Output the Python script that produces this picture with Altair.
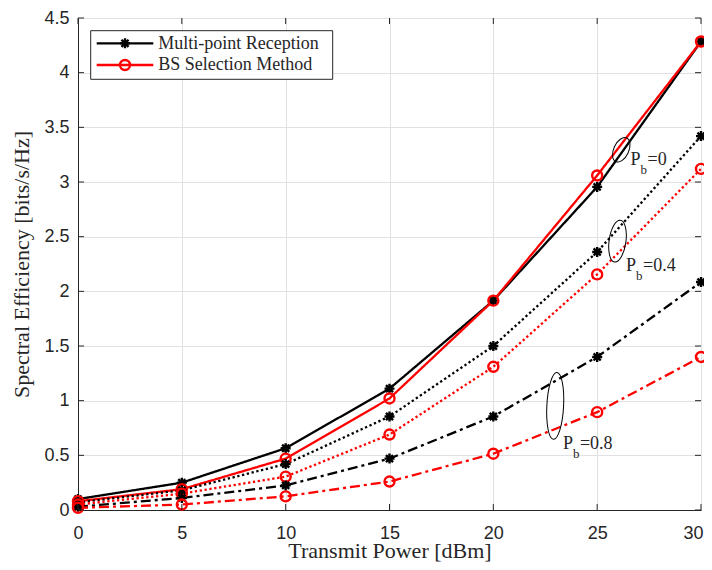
import altair as alt
import pandas as pd

# ---------------- data ----------------
power = [0, 5, 10, 15, 20, 25, 30]
multi_pb0 = [0.10, 0.25, 0.565, 1.11, 1.915, 2.955, 4.285]
bs_pb0 = [0.08, 0.19, 0.47, 1.02, 1.915, 3.06, 4.285]
multi_pb04 = [0.07, 0.18, 0.42, 0.855, 1.50, 2.36, 3.42]
bs_pb04 = [0.05, 0.15, 0.305, 0.69, 1.31, 2.155, 3.12]
multi_pb08 = [0.03, 0.11, 0.225, 0.47, 0.855, 1.40, 2.085]
bs_pb08 = [0.02, 0.05, 0.125, 0.26, 0.515, 0.895, 1.40]

methods = ["Multi-point Reception", "BS Selection Method"]
pb_values = ["0", "0.4", "0.8"]

x_ticks = [0, 5, 10, 15, 20, 25, 30]
y_ticks = [0, 0.5, 1, 1.5, 2, 2.5, 3, 3.5, 4, 4.5]

# annotation ellipses and labels (data coordinates)
ell_x = [26.16, 25.98, 22.98]
ell_y = [3.294, 2.459, 0.952]
lab_x = [26.61, 26.39, 23.35]
lab_y = [3.159, 2.189, 0.559]
lab_text = ["=0", "=0.4", "=0.8"]

# ---------------- table ----------------
series = {
    (methods[0], pb_values[0]): multi_pb0,
    (methods[1], pb_values[0]): bs_pb0,
    (methods[0], pb_values[1]): multi_pb04,
    (methods[1], pb_values[1]): bs_pb04,
    (methods[0], pb_values[2]): multi_pb08,
    (methods[1], pb_values[2]): bs_pb08,
}
rows = []
for (m, pb), vals in series.items():
    for p, v in zip(power, vals):
        rows.append({"method": m, "pb": pb, "series": m + " " + pb, "power": p, "se": v})
df = pd.DataFrame(rows)

W, H = 623, 492
AX = "#262626"
GRID = "#e1e1e1"
STAR = "M0,-1L0,1M-1,0L1,0M-0.71,-0.71L0.71,0.71M-0.71,0.71L0.71,-0.71"


def ellipse(r):
    return f"M{-r},0A{r},1 0 1,0 {r},0A{r},1 0 1,0 {-r},0Z"


xscale = alt.Scale(domain=[0, 30], nice=False)
yscale = alt.Scale(domain=[0, 4.5], nice=False)

last_x = "datum.value == %d" % x_ticks[-1]
xaxis = alt.Axis(values=x_ticks, format="d", title="Transmit Power [dBm]", grid=True,
                 gridColor=GRID, domainColor=AX, ticks=False, labelFont="Liberation Sans",
                 labelFontSize=18, labelColor=AX, labelPadding=14, labelFlush=False,
                 labelAlign={"condition": {"test": last_x, "value": "right"}, "value": "center"},
                 labelOffset={"condition": {"test": last_x, "value": 2}, "value": 0},
                 labelOverlap=False, titleFont="Liberation Serif",
                 titleFontSize=22, titleFontWeight="normal", titleColor=AX, titleY=47,
                 titleBaseline="alphabetic")
yaxis = alt.Axis(values=y_ticks, format="~g", title="Spectral Efficiency [bits/s/Hz]", grid=True,
                 gridColor=GRID, domainColor=AX, ticks=False, labelFont="Liberation Sans",
                 labelFontSize=18, labelColor=AX, labelPadding=9, labelFlush=False,
                 labelOverlap=False, titleFont="Liberation Serif", titleFontSize=22,
                 titleFontWeight="normal", titleColor=AX, titleX=-50, titleBaseline="alphabetic")


def X(f):
    return alt.X(f, scale=xscale, axis=xaxis)


def Y(f):
    return alt.Y(f, scale=yscale, axis=yaxis)


color = alt.Color("method:N", scale=alt.Scale(domain=methods, range=["#000000", "#ff0000"]), legend=None)

lines = alt.Chart(df).mark_line(strokeWidth=2.3).encode(
    x=X("power:Q"),
    y=Y("se:Q"),
    color=color,
    strokeDash=alt.StrokeDash("pb:N", scale=alt.Scale(domain=pb_values,
                              range=[[1, 0], [2.3, 2.6], [10, 4, 3, 4]]), legend=None),
    detail="series:N",
)

pts = alt.Chart(df).mark_point(filled=False, strokeWidth=2.4, opacity=1).encode(
    x=X("power:Q"),
    y=Y("se:Q"),
    color=color,
    shape=alt.Shape("method:N", scale=alt.Scale(domain=methods, range=[STAR, "circle"]), legend=None),
    size=alt.Size("method:N", scale=alt.Scale(domain=methods, range=[100, 100]), legend=None),
)

# inner tick marks (MATLAB style)
xt = pd.DataFrame({"power": x_ticks})
yt = pd.DataFrame({"se": y_ticks})
tick_b = alt.Chart(xt).mark_rule(color=AX, strokeWidth=1).encode(
    x=X("power:Q"), y=alt.value(H), y2=alt.value(H - 6))
tick_t = alt.Chart(xt).mark_rule(color=AX, strokeWidth=1).encode(
    x=X("power:Q"), y=alt.value(0), y2=alt.value(6))
tick_l = alt.Chart(yt).mark_rule(color=AX, strokeWidth=1).encode(
    y=Y("se:Q"), x=alt.value(0), x2=alt.value(6))
tick_r = alt.Chart(yt).mark_rule(color=AX, strokeWidth=1).encode(
    y=Y("se:Q"), x=alt.value(W - 6), x2=alt.value(W))

# annotation ellipses
ell_specs = [(0.58, 676, 25), (0.40, 1764, 8), (0.25, 4489, 3)]
ells = []
for i, (r, s, a) in enumerate(ell_specs):
    d = pd.DataFrame({"power": [ell_x[i]], "se": [ell_y[i]]})
    ells.append(alt.Chart(d).mark_point(shape=ellipse(r), size=s, angle=a, filled=False,
                                        color="black", strokeWidth=1, opacity=1).encode(
        x=X("power:Q"), y=Y("se:Q")))

lab_df = pd.DataFrame({"power": lab_x, "se": lab_y, "t": lab_text})
lab_enc = dict(x=X("power:Q"), y=Y("se:Q"))
lab_p = alt.Chart(lab_df).mark_text(align="left", baseline="alphabetic", font="Liberation Serif",
                                    fontSize=18, color=AX).encode(text=alt.value("P"), **lab_enc)
lab_b = alt.Chart(lab_df).mark_text(align="left", baseline="alphabetic", font="Liberation Serif",
                                    fontSize=13, color=AX, dx=10, dy=9).encode(text=alt.value("b"), **lab_enc)
lab_v = alt.Chart(lab_df).mark_text(align="left", baseline="alphabetic", font="Liberation Serif",
                                    fontSize=18, color=AX, dx=17).encode(text="t:N", **lab_enc)

# manual legend (pixel placement inside plot)
one = pd.DataFrame({"k": [0]})
leg_box = alt.Chart(one).mark_rect(fill="white", stroke=AX, strokeWidth=1).encode(
    x=alt.value(12.7), x2=alt.value(254.7), y=alt.value(12.7), y2=alt.value(61.3))
leg_items = []
for i, (m, col, shp) in enumerate([(methods[0], "#000000", STAR), (methods[1], "#ff0000", "circle")]):
    yy = 25.3 + i * 21.7
    leg_items.append(alt.Chart(one).mark_rule(color=col, strokeWidth=2.3).encode(
        x=alt.value(18.7), x2=alt.value(75.3), y=alt.value(yy)))
    leg_items.append(alt.Chart(one).mark_point(shape=shp, size=100, filled=False, color=col,
                                               strokeWidth=2.4, opacity=1).encode(
        x=alt.value(47), y=alt.value(yy)))
    leg_items.append(alt.Chart(one).mark_text(align="left", baseline="alphabetic",
                                              font="Liberation Serif", fontSize=18, color=AX).encode(
        x=alt.value(80.3), y=alt.value(yy + 5.3), text=alt.value(m)))

chart = alt.layer(
    lines, pts, tick_b, tick_t, tick_l, tick_r, *ells, lab_p, lab_b, lab_v, leg_box, *leg_items
).properties(
    width=W, height=H,
    autosize=alt.AutoSizeParams(type="none"),
    padding={"left": 70, "top": 10, "right": 3, "bottom": 52},
).configure_view(stroke=AX, strokeWidth=1).configure(background="white")

chart.save("out.html", embed_options={"renderer": "svg", "actions": False})
